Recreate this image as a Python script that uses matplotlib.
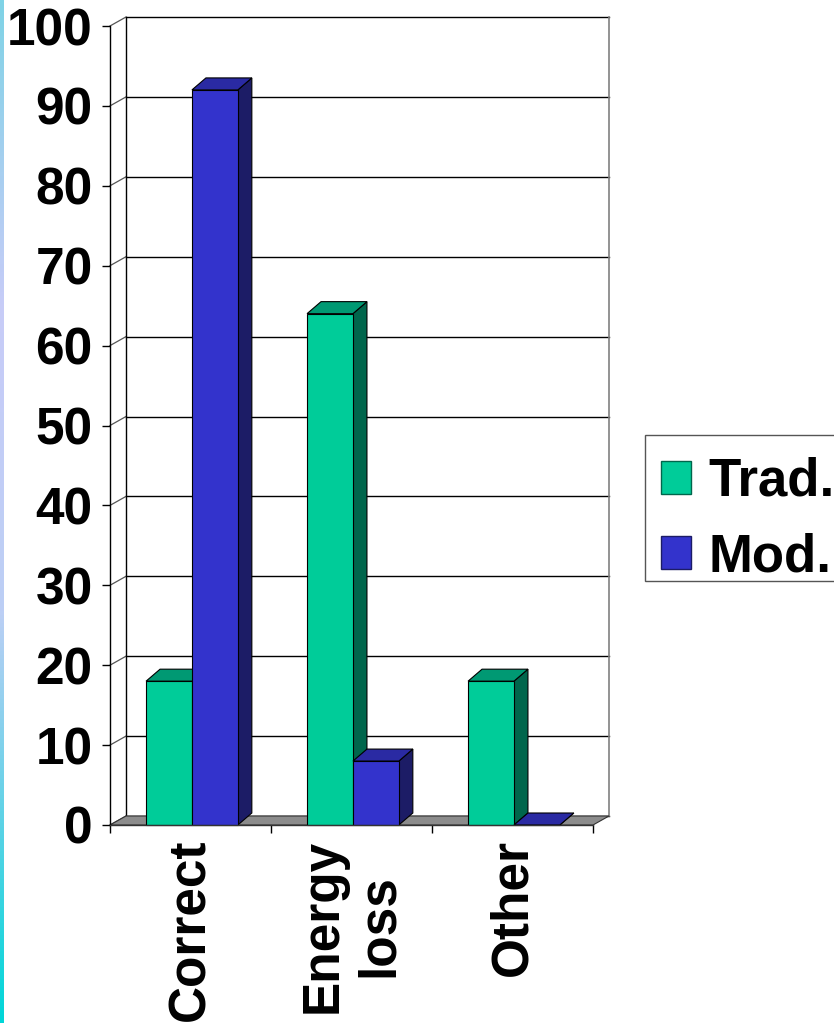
import numpy as np
import matplotlib
matplotlib.use('Agg')
import matplotlib.pyplot as plt
from matplotlib.patches import Polygon, Patch, Rectangle
from matplotlib.colors import LinearSegmentedColormap

plt.rcParams['font.family'] = ['Liberation Sans', 'DejaVu Sans']
plt.rcParams['font.weight'] = 'bold'

# data
categories = ['Correct', 'Energy\nloss', 'Other']
series_names = ['Trad.', 'Mod.']
trad = [18, 64, 18]
mod = [92, 8, 0]
yticks = list(range(0, 101, 10))

# colours (front, top, side)
trad_cols = ('#00CC99', '#009973', '#00664C')
mod_cols = ('#3333CC', '#2A2AA3', '#1C1C66')

W, H = 834, 1023
fig = plt.figure(figsize=(W / 100, H / 100), dpi=100)

# left slide border strip
strip = fig.add_axes([0, 0, 4 / W, 1])
cmap = LinearSegmentedColormap.from_list(
    'strip', [(0.0, '#7FD3E6'), (0.3, '#C8CCF8'), (0.6, '#BCCFF5'), (1.0, '#00D6D8')])
strip.imshow(np.linspace(0, 1, 256).reshape(-1, 1), aspect='auto', cmap=cmap)
strip.axis('off')

# main axes = front plane
x0, x1, yb, yt = 110, 593, 825, 26
ax = fig.add_axes([x0 / W, 1 - yb / H, (x1 - x0) / W, (yb - yt) / H])
ax.set_xlim(0, 3)
ax.set_ylim(0, 100)
ax.patch.set_visible(False)

p0 = ax.transData.transform((0, 0))
p1 = ax.transData.transform((1, 1))
sx, sy = p1[0] - p0[0], p1[1] - p0[1]

wdx, wdy = 16 / sx, 9 / sy     # wall depth
bdx, bdy = 14 / sx, 12 / sy    # bar depth
ncat = len(categories)

# back wall gridlines
for v in yticks:
    ax.plot([wdx, ncat + wdx], [v + wdy, v + wdy], color='black', lw=1, clip_on=False, zorder=1)
    ax.plot([0, wdx], [v, v + wdy], color='#555555', lw=0.9, clip_on=False, zorder=1)
ax.plot([wdx, wdx], [wdy, 100 + wdy], color='black', lw=1, clip_on=False, zorder=1)
ax.plot([ncat + wdx, ncat + wdx], [wdy, 100 + wdy], color='#808080', lw=1.2, clip_on=False, zorder=1)

# floor
ax.add_patch(Polygon([(0, 0), (ncat, 0), (ncat + wdx, wdy), (wdx, wdy)],
                     closed=True, facecolor='#8C8C8C', edgecolor='#333333', lw=0.8,
                     clip_on=False, zorder=2))


def bar3d(left, width, h, cols):
    front, top, side = cols
    ax.add_patch(Polygon([(left + width, 0), (left + width + bdx, bdy),
                          (left + width + bdx, h + bdy), (left + width, h)],
                         closed=True, facecolor=side, edgecolor='black', lw=0.8,
                         clip_on=False, zorder=3))
    ax.add_patch(Polygon([(left, h), (left + width, h), (left + width + bdx, h + bdy),
                          (left + bdx, h + bdy)],
                         closed=True, facecolor=top, edgecolor='black', lw=0.8,
                         clip_on=False, zorder=3))
    ax.bar(left, h, width=width, align='edge', color=front, edgecolor='black',
           lw=0.8, zorder=3, clip_on=False)


bw = 0.285
off = 0.224
for i in range(ncat):
    bar3d(i + off, bw, trad[i], trad_cols)
    bar3d(i + off + bw, bw, mod[i], mod_cols)

# axes, ticks
for s in ['top', 'right']:
    ax.spines[s].set_visible(False)
ax.spines['left'].set_linewidth(1)
ax.spines['bottom'].set_linewidth(1)
ax.spines['bottom'].set_color('#333333')
ax.spines['left'].set_zorder(4)
ax.spines['bottom'].set_zorder(4)

ax.set_yticks(yticks)
ax.set_yticklabels([str(v) for v in yticks], fontsize=37, fontweight='bold')
ax.tick_params(axis='y', length=5.5, width=1, pad=7)

ax.set_xticks(range(ncat + 1))
ax.set_xticklabels([''] * (ncat + 1))
ax.tick_params(axis='x', which='major', length=6, width=1)
ax.set_xticks([i + 0.5 for i in range(ncat)], minor=True)
ax.set_xticklabels(categories, minor=True, rotation=90, fontsize=37, fontweight='bold',
                   ha='center', va='top', multialignment='center')
ax.tick_params(axis='x', which='minor', length=0, pad=10)

# legend (frame drawn separately)
fig.patches.append(Rectangle((645 / W, 1 - 581 / H), 200 / W, 146 / H,
                             transform=fig.transFigure, facecolor='white',
                             edgecolor='#555555', lw=1, zorder=0))
handles = [Patch(facecolor=trad_cols[0], edgecolor=trad_cols[2]),
           Patch(facecolor=mod_cols[0], edgecolor=mod_cols[2])]
leg = fig.legend(handles, series_names, loc='upper left',
                 bbox_to_anchor=(645 / W, 1 - 441 / H),
                 prop={'weight': 'bold', 'size': 38},
                 handlelength=0.58, handleheight=0.58, handletextpad=0.33,
                 borderpad=0.3, labelspacing=0.48, borderaxespad=0,
                 frameon=False)

fig.savefig('out.png', dpi=100)
